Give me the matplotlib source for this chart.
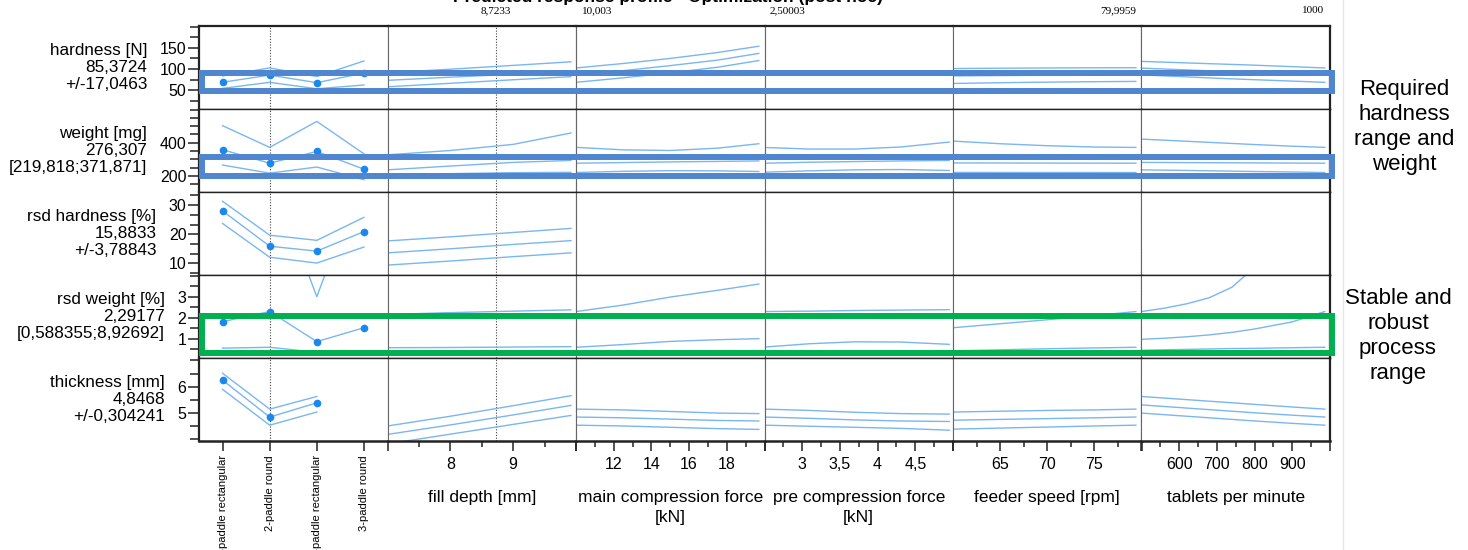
#!/usr/bin/env python3
"""
Prediction profiler for tablet press responses
(paddle type + 5 process factors vs. 5 responses)
"""

import matplotlib
matplotlib.use('Agg')  # no display
import matplotlib.pyplot as plt
import numpy as np
from matplotlib.patches import Rectangle
from matplotlib.lines import Line2D
from matplotlib.ticker import MultipleLocator, FixedLocator
from matplotlib.transforms import blended_transform_factory

# ---- responses (rows) ----
RESPONSES = ['hardness [N]', 'weight [mg]', 'rsd hardness [%]', 'rsd weight [%]', 'thickness [mm]']
PREDICTED = ['85,3724', '276,307', '15,8833', '2,29177', '4,8468']
INTERVALS = ['+/-17,0463', '[219,818;371,871]', '+/-3,78843', '[0,588355;8,92692]', '+/-0,304241']

# ---- factors (columns) ----
FACTORS = ['', 'fill depth [mm]', 'main compression force\n[kN]',
           'pre compression force\n[kN]', 'feeder speed [rpm]', 'tablets per minute']
CATEGORIES = ['2-paddle rectangular', '2-paddle round', '3-paddle rectangular', '3-paddle round']
SETTINGS = [1, 8.7233, 10.003, 2.50003, 79.9959, 1000]
SETTING_LABELS = ['', '8,7233', '10,003', '2,50003', '79,9959', '1000']

TITLE = 'Predicted response profile - Optimization (post hoc)'

# x values where the curves were read
X_PADDLE = [0, 1, 2, 3]
X_FILL = [7.0, 8.0, 9.0, 9.92]
X_MAIN = [10.0, 12.5, 15.0, 17.5, 19.7]
X_PRE = [2.5, 3.1, 3.7, 4.3, 4.95]
X_FEED = [60, 65, 70, 75, 79.4]
X_TPM = [500, 600, 700, 800, 900, 986]
X_TPM_RSDW = [500, 560, 620, 680, 740, 800, 900, 986]  # finer, curve bends a lot

# curves: [lower limit, prediction, upper limit]
HARD_PADDLE = [[54, 68.3, 53, 62], [68.5, 85.4, 67.5, 90.5], [83.5, 102.5, 82, 119]]
HARD_FILL = [[57.7, 66, 74.4, 81.8], [73, 80.5, 87.5, 94], [91, 99.5, 108.5, 117]]
HARD_MAIN = [[68.3, 79, 91, 104, 120], [85.4, 96, 108, 121, 137], [102.4, 113, 125, 139, 154]]
HARD_FEED = [[65.6, 67.4, 68.8, 69.8, 70.5], [83.5, 84.4, 85, 85.3, 85.4], [101, 101.8, 102.4, 102.8, 103]]
HARD_TPM = [[86, 82, 78, 74.5, 71.2, 68.3], [102, 98.5, 95, 91.5, 88.3, 85.4],
            [118, 115, 112, 109, 105.5, 102.4]]

WEIGHT_PADDLE = [[265, 216, 253, 176], [357.6, 276.3, 347, 240], [503, 371.9, 529, 333]]
WEIGHT_FILL = [[205, 213, 219, 221], [236, 259, 281, 293], [327, 353, 390, 459]]
WEIGHT_MAIN = [[220, 227, 231, 230, 226], [276, 280, 284, 287, 290], [372, 357, 353, 367, 394]]
WEIGHT_PRE = [[222, 230, 236, 238, 232], [276, 282, 286, 290, 293], [371.5, 361.8, 361.8, 374, 404]]
WEIGHT_FEED = [[220.5, 220.2, 220, 219.9, 219.8], [278, 277.5, 277, 276.5, 276.3],
               [410, 394, 382, 374, 371.5]]
WEIGHT_TPM = [[236, 233, 229.5, 226, 223, 219.8], [281, 280, 279, 278, 277, 276.3],
              [422, 411, 400, 389, 379, 371.9]]

RSDH_PADDLE = [[23.7, 12.1, 10.1, 15.6], [28, 15.88, 14.2, 20.9], [31.3, 19.67, 17.9, 25.8]]
RSDH_FILL = [[9.4, 10.8, 12.3, 13.6], [13.6, 15.0, 16.5, 17.8], [17.7, 19.1, 20.6, 22.0]]

RSDW_PADDLE = [[0.55, 0.59, 0.35, 0.4], [1.81, 2.29, 0.86, 1.52], [6.0, 8.93, 3.0, 9.0]]
RSDW_FILL = [[0.57, 0.58, 0.60, 0.62], [2.15, 2.24, 2.31, 2.37], [7.8, 8.4, 9.2, 9.9]]
RSDW_MAIN = [[0.59, 0.72, 0.87, 0.95, 1.0], [2.29, 2.6, 2.98, 3.3, 3.6], [8.93, 10, 11.5, 13, 15]]
RSDW_PRE = [[0.6, 0.76, 0.85, 0.84, 0.73], [2.29, 2.31, 2.34, 2.36, 2.38], [8.93, 8.5, 8.3, 8.4, 8.8]]
RSDW_FEED = [[0.42, 0.47, 0.52, 0.56, 0.59], [1.52, 1.71, 1.9, 2.1, 2.29], [6, 6.8, 7.6, 8.3, 8.93]]
RSDW_TPM = [[0.45, 0.47, 0.49, 0.51, 0.53, 0.54, 0.57, 0.59],
            [0.97, 1.02, 1.09, 1.18, 1.30, 1.46, 1.80, 2.29],
            [2.29, 2.45, 2.66, 2.95, 3.45, 4.4, 6.3, 8.93]]

THICK_PADDLE = [[5.9, 4.54, 5.04, np.nan], [6.25, 4.8468, 5.39, np.nan], [6.51, 5.15, 5.63, np.nan]]
THICK_FILL = [[3.83, 4.2, 4.57, 4.91], [4.19, 4.55, 4.93, 5.29], [4.51, 4.88, 5.28, 5.66]]
THICK_MAIN = [[4.54, 4.51, 4.46, 4.41, 4.38], [4.85, 4.82, 4.77, 4.72, 4.7], [5.15, 5.12, 5.06, 5.0, 4.98]]
THICK_PRE = [[4.54, 4.5, 4.46, 4.42, 4.35], [4.85, 4.8, 4.74, 4.7, 4.68], [5.15, 5.1, 5.03, 4.98, 4.96]]
THICK_FEED = [[4.39, 4.43, 4.47, 4.51, 4.54], [4.73, 4.76, 4.79, 4.82, 4.85], [5.04, 5.07, 5.1, 5.12, 5.15]]
THICK_TPM = [[5.0, 4.9, 4.8, 4.7, 4.61, 4.54], [5.31, 5.21, 5.11, 5.01, 4.92, 4.85],
             [5.63, 5.53, 5.43, 5.33, 5.23, 5.15]]

# target windows (highlight boxes)
HARDNESS_TARGET = (47.6, 91.0)
WEIGHT_TARGET = (200, 312)
RSD_WEIGHT_TARGET = (0.3, 2.1)

# axis ranges / ticks
ROW_YLIM = [(5, 202), (102, 604), (6, 34.5), (0.08, 4.03), (3.94, 7.09)]
ROW_YTICKS = [[50, 100, 150], [200, 400], [10, 20, 30], [1, 2, 3], [5, 6]]
ROW_YMINOR = [25, 50, 10 / 3, 0.5, 0.5]

COL_XLIM = [(-0.5, 3.5), (7, 10), (10, 20), (2.5, 5), (60, 80), (500, 1000)]
COL_XTICKS = [X_PADDLE, [7, 8, 9, 10], [10, 12, 14, 16, 18, 20], [2.5, 3, 3.5, 4, 4.5, 5],
              [60, 65, 70, 75, 80], [500, 600, 700, 800, 900, 1000]]
COL_XTICKLABELS = [CATEGORIES, ['', '8', '9', ''], ['', '12', '14', '16', '18', ''],
                   ['', '3', '3,5', '4', '4,5', ''], ['', '65', '70', '75', ''],
                   ['', '600', '700', '800', '900', '']]
COL_XMINOR = [None, 0.5, 1, 0.25, 2.5, 50]

LINE_COLOR = '#7ab6f0'
DOT_COLOR = '#1c88ee'
BLUE_BOX = '#4f86cf'
GREEN_BOX = '#00b050'


def plot_profiler():
    plt.rcParams['font.family'] = ['Liberation Sans', 'DejaVu Sans']

    # (x, [lower, prediction, upper]) per panel, None = factor not in model
    curves = [
        [(X_PADDLE, HARD_PADDLE), (X_FILL, HARD_FILL), (X_MAIN, HARD_MAIN), None,
         (X_FEED, HARD_FEED), (X_TPM, HARD_TPM)],
        [(X_PADDLE, WEIGHT_PADDLE), (X_FILL, WEIGHT_FILL), (X_MAIN, WEIGHT_MAIN),
         (X_PRE, WEIGHT_PRE), (X_FEED, WEIGHT_FEED), (X_TPM, WEIGHT_TPM)],
        [(X_PADDLE, RSDH_PADDLE), (X_FILL, RSDH_FILL), None, None, None, None],
        [(X_PADDLE, RSDW_PADDLE), (X_FILL, RSDW_FILL), (X_MAIN, RSDW_MAIN),
         (X_PRE, RSDW_PRE), (X_FEED, RSDW_FEED), (X_TPM_RSDW, RSDW_TPM)],
        [(X_PADDLE, THICK_PADDLE), (X_FILL, THICK_FILL), (X_MAIN, THICK_MAIN),
         (X_PRE, THICK_PRE), (X_FEED, THICK_FEED), (X_TPM, THICK_TPM)],
    ]

    W, H = 1468, 550
    left, right, top, bottom = 199 / W, 1330 / W, 1 - 26 / H, 1 - 441 / H

    fig = plt.figure(figsize=(W / 100, H / 100), dpi=100)
    gs = fig.add_gridspec(5, 6, left=left, right=right, top=top, bottom=bottom,
                          wspace=0, hspace=0)
    axes = gs.subplots(sharex='col', sharey='row')

    nrow, ncol = axes.shape
    for r in range(nrow):
        for c in range(ncol):
            ax = axes[r, c]
            # frame
            for side in ('top', 'bottom'):
                ax.spines[side].set_color('#222222')
                ax.spines[side].set_linewidth(1.0)
            for side in ('left', 'right'):
                ax.spines[side].set_color('#666666')
                ax.spines[side].set_linewidth(0.8)
            if c == 0:
                ax.spines['left'].set_color('#222222')
                ax.spines['left'].set_linewidth(1.6)
            if c == ncol - 1:
                ax.spines['right'].set_color('#222222')
                ax.spines['right'].set_linewidth(1.6)
            if r == nrow - 1:
                ax.spines['bottom'].set_linewidth(1.8)
            if r == 0:
                ax.spines['top'].set_linewidth(1.6)

            ax.tick_params(which='both', direction='out', color='#222222', width=1.1,
                           left=(c == 0), bottom=(r == nrow - 1),
                           labelleft=(c == 0), labelbottom=(r == nrow - 1))
            ax.tick_params(axis='y', which='major', length=8, pad=1, labelsize=11.5)
            ax.tick_params(axis='y', which='minor', length=6.5)
            ax.tick_params(axis='x', which='major', length=7, pad=4.5, labelsize=11.5)
            ax.tick_params(axis='x', which='minor', length=4)

            panel = curves[r][c]
            if panel is not None:
                x, data = panel
                for vals in data:
                    ax.plot(x, vals, color=LINE_COLOR, lw=1.0, zorder=2)
                if c == 0:
                    ax.plot(x, data[1], 'o', color=DOT_COLOR, ms=4.5, zorder=3)

            # current setting (dotted)
            lo, hi = COL_XLIM[c]
            s = SETTINGS[c]
            if lo < s < hi:
                ax.axvline(s, color='#444444', lw=0.8, ls=(0, (1, 1.5)), zorder=1)

    # y axes (shared per row)
    for r in range(nrow):
        ax = axes[r, 0]
        ax.set_ylim(*ROW_YLIM[r])
        ax.yaxis.set_major_locator(FixedLocator(ROW_YTICKS[r]))
        ax.yaxis.set_minor_locator(MultipleLocator(ROW_YMINOR[r]))
        ax.set_ylabel(f'{RESPONSES[r]}\n{PREDICTED[r]}\n{INTERVALS[r]}', rotation=0,
                      ha='right', va='center', multialignment='right',
                      fontsize=12.3, labelpad=9)

    # x axes (shared per column)
    for c in range(ncol):
        ax = axes[nrow - 1, c]
        ax.set_xlim(*COL_XLIM[c])
        if c == 0:
            ax.set_xticks(COL_XTICKS[c], COL_XTICKLABELS[c], rotation=90, fontsize=8)
            ax.tick_params(axis='x', which='major', length=7, pad=3)
        else:
            ax.set_xticks(COL_XTICKS[c], COL_XTICKLABELS[c])
            ax.xaxis.set_minor_locator(MultipleLocator(COL_XMINOR[c]))
            ax.set_xlabel(FACTORS[c], fontsize=12.5, labelpad=13, linespacing=1.4)

        # setting value above the top row
        if SETTING_LABELS[c]:
            top_ax = axes[0, c]
            lo, hi = COL_XLIM[c]
            span = hi - lo
            s = SETTINGS[c]
            if s - lo < 0.05 * span:
                ha, dx = 'left', 4
            elif hi - s < 0.05 * span:
                ha, dx = 'right', -4
            else:
                ha, dx = 'center', 0
            top_ax.annotate(SETTING_LABELS[c], xy=(s, 1), xycoords=top_ax.get_xaxis_transform(),
                            xytext=(dx, 8), textcoords='offset points', ha=ha, va='bottom',
                            fontsize=8, family=['Liberation Serif', 'DejaVu Serif'],
                            annotation_clip=False)

    # highlight boxes across the whole row
    x0 = left + 3 / W
    x1 = right + 2 / W
    for r, (ylo, yhi), color in [(0, HARDNESS_TARGET, BLUE_BOX),
                                 (1, WEIGHT_TARGET, BLUE_BOX),
                                 (3, RSD_WEIGHT_TARGET, GREEN_BOX)]:
        tr = blended_transform_factory(fig.transFigure, axes[r, 0].transData)
        rect = Rectangle((x0, ylo), x1 - x0, yhi - ylo, transform=tr, fill=False,
                         edgecolor=color, lw=4.3, zorder=10, clip_on=False)
        fig.add_artist(rect)

    # thin separator on the right
    fig.add_artist(Line2D([1343 / W, 1343 / W], [0, 1], transform=fig.transFigure,
                          color='#e6e6e6', lw=1))

    # annotations
    fig.text(1404 / W, 1 - 127 / H, 'Required\nhardness\nrange and\nweight',
             ha='center', va='center', fontsize=16, linespacing=1.26)
    fig.text(1398 / W, 1 - 336 / H, 'Stable and\nrobust\nprocess\nrange',
             ha='center', va='center', fontsize=16, linespacing=1.24)

    # title (mostly cut off at the top edge)
    fig.text(668 / W, 1 - 2 / H, TITLE, ha='center', va='baseline',
             fontsize=12.5, fontweight='bold')

    plt.savefig('out.png', dpi=100)
    plt.close()


if __name__ == "__main__":
    plot_profiler()
